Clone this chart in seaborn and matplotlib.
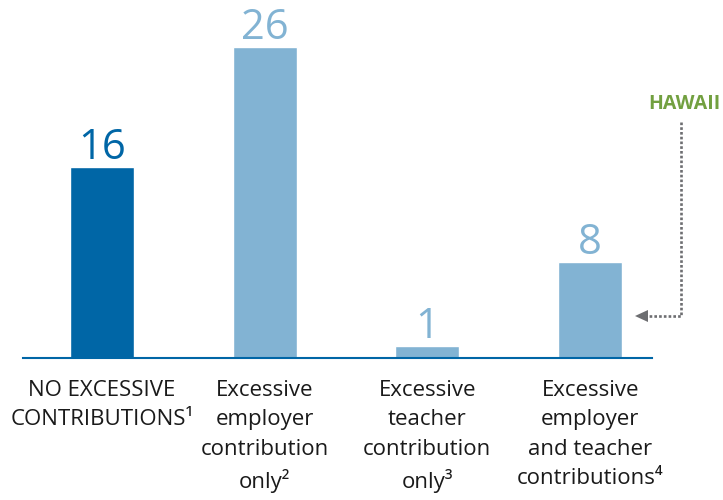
import matplotlib
matplotlib.use("Agg")
import matplotlib.pyplot as plt
from matplotlib.patches import Polygon
import seaborn as sns
import pandas as pd

categories = [
    "NO EXCESSIVE\nCONTRIBUTIONS\u00b9",
    "Excessive\nemployer\ncontribution\nonly\u00b2",
    "Excessive\nteacher\ncontribution\nonly\u00b3",
    "Excessive\nemployer\nand teacher\ncontributions\u2074",
]
counts = [16, 26, 1, 8]
bar_colors = ["#0066a6", "#82b3d3", "#82b3d3", "#82b3d3"]
callout_text = "HAWAII"

sns.set_theme(style="white")
plt.rcParams["font.family"] = ["Open Sans", "DejaVu Sans"]

df = pd.DataFrame({"category": categories, "count": counts})

W, H = 723, 500
fig = plt.figure(figsize=(W / 100, H / 100), dpi=100)
ax = fig.add_axes([23 / W, (H - 358) / H, (652 - 23) / W, 358 / H])

sns.barplot(data=df, x="category", y="count", hue="category",
            palette=bar_colors, legend=False, width=0.393,
            saturation=1, ax=ax)

ax.set_xlim(-0.484, 3.380)
ax.set_ylim(0, 358 / 11.96)
ax.set_xlabel("")
ax.set_ylabel("")
ax.set_yticks([])
for side in ["top", "right", "left"]:
    ax.spines[side].set_visible(False)
ax.spines["bottom"].set_color("#0066a6")
ax.spines["bottom"].set_linewidth(1.5)
ax.tick_params(axis="x", length=0, pad=16)
for lbl in ax.get_xticklabels():
    lbl.set_fontsize(16)
    lbl.set_color("#1a1a1a")
    lbl.set_linespacing(1.51)

for cont, col in zip(ax.containers, bar_colors):
    ax.bar_label(cont, fmt="%d", padding=-1.5, fontsize=30, color=col)

# callout pointing at the last category
gray = "#6d6e71"
def fx(px):
    return px / W
def fy(py):
    return 1 - py / H

fig.text(fx(721), fy(104), callout_text, ha="right", va="center",
         fontsize=14, fontweight="bold", color="#72a040")
fig.add_artist(plt.Line2D([fx(681), fx(681), fx(647)],
                          [fy(122), fy(316), fy(316)],
                          transform=fig.transFigure, color=gray,
                          linewidth=1.9, linestyle=(0, (1, 0.8))))
fig.add_artist(Polygon([[fx(635), fy(316)], [fx(648), fy(310)], [fx(648), fy(322)]],
                       closed=True, transform=fig.transFigure,
                       facecolor=gray, edgecolor="none"))

fig.savefig("out.png", dpi=100)
